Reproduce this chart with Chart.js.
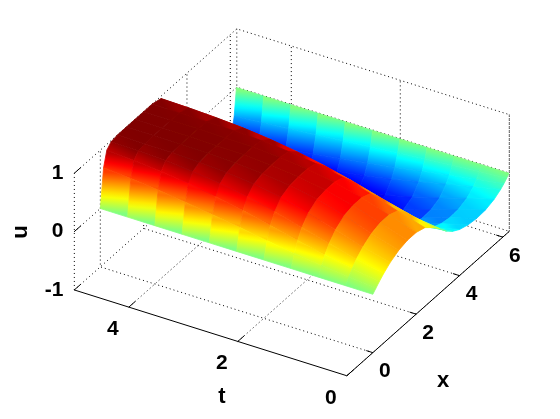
<!DOCTYPE html>
<html>
<head>
<meta charset="utf-8">
<script src="https://cdn.jsdelivr.net/npm/chart.js@4.4.0/dist/chart.umd.min.js"></script>
<style>
  html, body { margin: 0; padding: 0; background: #fff; }
  #wrap { width: 560px; height: 419px; }
</style>
</head>
<body>
<div id="wrap"><canvas id="surf" width="560" height="419"></canvas></div>
<script>
// grid of the surface
const xs = [0, 0.15, 0.3, 0.5, 0.8, 1.2, 1.6, 2.0, 2.4, 2.8, 3.1, 3.4, 3.7, 4.0, 4.4, 4.8, 5.2, 5.6, 5.9, 6.05, 6.18, 6.283];
const ts = [0, 0.5, 1, 1.5, 2, 2.5, 3, 3.5, 4, 4.5, 5];

const uT00 = [0, .06, .12, .19, .28, .36, .40, .40, .35, .22, .10, -.04, -.14, -.21, -.26, -.28, -.27, -.22, -.15, -.10, -.05, 0];
const uT05 = [0, .10, .19, .29, .40, .50, .55, .55, .49, .33, .16, -.04, -.21, -.32, -.39, -.42, -.41, -.35, -.25, -.17, -.08, 0];
const uT10 = [0, .15, .28, .41, .55, .66, .70, .70, .64, .45, .23, -.04, -.30, -.45, -.53, -.57, -.56, -.49, -.35, -.25, -.12, 0];
const uT15 = [0, .21, .38, .54, .69, .79, .82, .82, .77, .58, .31, -.04, -.40, -.58, -.67, -.71, -.70, -.62, -.46, -.33, -.16, 0];
const uT20 = [0, .28, .49, .66, .81, .88, .90, .90, .86, .69, .38, -.04, -.49, -.70, -.78, -.82, -.81, -.74, -.56, -.41, -.20, 0];
const uT25 = [0, .36, .60, .77, .89, .94, .95, .95, .92, .78, .45, -.04, -.57, -.79, -.86, -.89, -.88, -.82, -.65, -.48, -.25, 0];
const uT30 = [0, .43, .69, .85, .94, .97, .98, .98, .96, .85, .52, -.04, -.64, -.86, -.91, -.93, -.93, -.88, -.72, -.55, -.29, 0];
const uT35 = [0, .50, .77, .91, .97, .99, .99, .99, .98, .90, .58, -.04, -.69, -.90, -.95, -.96, -.96, -.92, -.79, -.62, -.34, 0];
const uT40 = [0, .56, .83, .95, .99, 1, 1, 1, .99, .93, .63, -.04, -.73, -.93, -.97, -.98, -.98, -.95, -.84, -.68, -.38, 0];
const uT45 = [0, .61, .87, .97, .99, 1, 1, 1, .99, .95, .67, -.04, -.76, -.95, -.99, -.99, -.99, -.97, -.88, -.72, -.42, 0];
const uT50 = [0, .65, .90, .98, 1, 1, 1, 1, 1, .96, .70, -.04, -.78, -.96, -.99, -1, -1, -.98, -.91, -.76, -.46, 0];
const uRows = [uT00, uT05, uT10, uT15, uT20, uT25, uT30, uT35, uT40, uT45, uT50];

const xTicks = [0, 2, 4, 6];
const tTicks = [0, 2, 4];
const uTicks = [-1, 0, 1];
const xLim = [-1.2, 6.3], tLim = [0, 5], uLim = [-1, 1];

// view (orthographic projection into canvas pixels)
function proj(x, t, z) {
  return { x: 373 + 21.7 * x - 54.6 * t, y: 353 - 19.3 * x - 17.2 * t - 58.5 * (z + 1) };
}
function depth(x, t) { return 19.3 * x + 17.2 * t; }

function jet(v) {
  v = Math.max(0, Math.min(1, (v - uLim[0]) / (uLim[1] - uLim[0])));
  const c = a => Math.round(255 * Math.max(0, Math.min(1, 1.5 - Math.abs(4 * v - a))));
  return `rgb(${c(3)},${c(2)},${c(1)})`;
}

const datasets = [];

// box grid (dotted), behind everything
function dotted(pts) {
  datasets.push({ data: pts, showLine: true, fill: false, borderColor: '#000', borderWidth: 1,
    borderDash: [1, 3], pointRadius: 0, order: 100000 });
}
xTicks.forEach(x => {
  dotted([proj(x, tLim[0], -1), proj(x, tLim[1], -1), proj(x, tLim[1], uLim[1])]);
});
tTicks.forEach(t => {
  dotted([proj(xLim[0], t, -1), proj(xLim[1], t, -1), proj(xLim[1], t, uLim[1])]);
});
uTicks.forEach(z => {
  dotted([proj(xLim[0], tLim[1], z), proj(xLim[1], tLim[1], z), proj(xLim[1], tLim[0], z)]);
});
dotted([proj(xLim[0], tLim[1], -1), proj(xLim[0], tLim[1], 1)]);
dotted([proj(xLim[1], tLim[1], -1), proj(xLim[1], tLim[1], 1)]);
dotted([proj(xLim[1], tLim[0], -1), proj(xLim[1], tLim[0], 1)]);

// colour shaded along x across each facet (colormap sampled at several stops)
function shade(k, j) {
  const tm = (ts[j] + ts[j + 1]) / 2;
  const ua = (uRows[j][k] + uRows[j + 1][k]) / 2;
  const ub = (uRows[j][k + 1] + uRows[j + 1][k + 1]) / 2;
  const A = proj(xs[k], tm, ua), B = proj(xs[k + 1], tm, ub);
  let cache = null;
  return (c) => {
    if (cache) return cache;
    const sx = c.chart.scales.x, sy = c.chart.scales.y;
    const fallback = jet((ua + ub) / 2);
    if (!sx || !sy || !c.chart.chartArea) return fallback;
    const pts = [sx.getPixelForValue(A.x), sy.getPixelForValue(A.y), sx.getPixelForValue(B.x), sy.getPixelForValue(B.y)];
    if (!pts.every(Number.isFinite)) return fallback;
    const g = c.chart.ctx.createLinearGradient(pts[0], pts[1], pts[2], pts[3]);
    for (let s = 0; s <= 8; s++) g.addColorStop(s / 8, jet(ua + (ub - ua) * s / 8));
    cache = g;
    return g;
  };
}

// surface facets, painted far to near
for (let j = 0; j < ts.length - 1; j++) {
  for (let k = 0; k < xs.length - 1; k++) {
    const a = uRows[j][k], b = uRows[j][k + 1], c = uRows[j + 1][k + 1], d = uRows[j + 1][k];
    const p = [proj(xs[k], ts[j], a), proj(xs[k + 1], ts[j], b), proj(xs[k + 1], ts[j + 1], c), proj(xs[k], ts[j + 1], d)];
    p.push(p[0]);
    const col = shade(k, j);
    datasets.push({ data: p, showLine: true, fill: 'shape', backgroundColor: col, borderColor: col,
      borderWidth: 0.8, pointRadius: 0, order: depth((xs[k] + xs[k + 1]) / 2, (ts[j] + ts[j + 1]) / 2) });
  }
}

// solid axes + tick marks
function solid(pts) {
  datasets.push({ data: pts, showLine: true, fill: false, borderColor: '#000', borderWidth: 1,
    pointRadius: 0, order: -1000 });
}
solid([proj(xLim[0], tLim[1], -1), proj(xLim[0], tLim[0], -1), proj(xLim[1], tLim[0], -1)]);
tTicks.forEach(t => solid([proj(xLim[0], t, -1), proj(xLim[0] + 0.3, t, -1)]));
xTicks.forEach(x => solid([proj(x, tLim[0], -1), proj(x, tLim[0] + 0.12, -1)]));
uTicks.forEach(z => solid([proj(xLim[0], tLim[1], z), proj(xLim[0] + 0.3, tLim[1], z)]));

const labels = {
  id: 'labels',
  afterDraw(chart) {
    const ctx = chart.ctx, sx = chart.scales.x, sy = chart.scales.y;
    const at = p => [sx.getPixelForValue(p.x), sy.getPixelForValue(p.y)];
    ctx.save();
    ctx.fillStyle = '#000';
    ctx.font = 'bold 21px "Liberation Sans", Arial, sans-serif';
    ctx.textBaseline = 'middle';
    ctx.textAlign = 'center';
    tTicks.forEach(t => { const [px, py] = at(proj(xLim[0], t, -1)); ctx.fillText(String(t), px - 16, py + 22); });
    xTicks.forEach(x => { const [px, py] = at(proj(x, tLim[0], -1)); ctx.fillText(String(x), px + 12, py + 19); });
    ctx.textAlign = 'right';
    uTicks.forEach(z => { const [px, py] = at(proj(xLim[0], tLim[1], z)); ctx.fillText(String(z), px - 11, py); });
    ctx.textAlign = 'center';
    ctx.font = 'bold 22px "Liberation Sans", Arial, sans-serif';
    ctx.fillText('t', 222, 397);
    ctx.fillText('x', 443, 381);
    ctx.translate(21, 232);
    ctx.rotate(-Math.PI / 2);
    ctx.fillText('u', 0, 0);
    ctx.restore();
  }
};

const chart = new Chart(document.getElementById('surf'), {
  type: 'scatter',
  data: { datasets },
  options: {
    responsive: false,
    animation: false,
    layout: { padding: 0 },
    plugins: { legend: { display: false }, tooltip: { enabled: false } },
    scales: {
      x: { type: 'linear', min: 0, max: 560, display: false },
      y: { type: 'linear', min: 0, max: 419, reverse: true, display: false }
    }
  },
  plugins: [labels]
});
chart.update();
</script>
</body>
</html>
